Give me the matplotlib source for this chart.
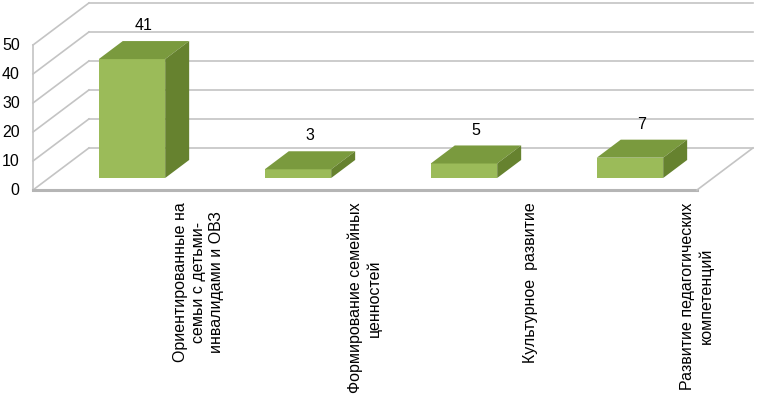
import matplotlib.pyplot as plt
from matplotlib.patches import Polygon

plt.rcParams['font.family'] = ['Liberation Sans', 'DejaVu Sans']

categories = [
    'Ориентированные на\nсемьи с детьми-\nинвалидами и ОВЗ',
    'Формирование семейных\nценностей',
    'Культурное  развитие',
    'Развитие педагогических\nкомпетенций',
]
values = [41, 3, 5, 7]
yticks = [0, 10, 20, 30, 40, 50]

FRONT = '#9bbb59'
TOP = '#7a9a3e'
SIDE = '#66822f'
GRID = '#c4c4c4'

# fake 3d: depth offset in data units
DX = 0.337   # category units
DY = 14.5    # value units
d0, d1 = 0.2857, 0.7143
width = 0.4

fig = plt.figure(figsize=(7.58, 3.99), dpi=100)
ax = fig.add_axes([0, 0, 1, 1])
ax.set_xlim(-33 / 166, 725 / 166)
ax.set_ylim((190 - 399) / 2.9, 190 / 2.9)
ax.axis('off')

n = len(values)
# walls and gridlines
for t in yticks:
    ax.plot([0, DX], [t, t + DY], color=GRID, lw=1.2, zorder=1)
    ax.plot([DX, n + DX], [t + DY, t + DY], color=GRID, lw=1.2, zorder=1)
    ax.text(-0.08, t, str(t), ha='right', va='center', fontsize=11.5)
ax.plot([0, 0], [0, yticks[-1]], color=GRID, lw=1.2, zorder=1)
ax.plot([0, n], [0, 0], color='#b5b5b5', lw=2.2, zorder=1)
ax.plot([n, n + DX], [0, DY], color=GRID, lw=1.2, zorder=1)

# bars
xs = [i + 0.5 + d0 * DX for i in range(n)]
b0 = d0 * DY
ax.bar(xs, values, width=width, bottom=b0, color=FRONT, zorder=3)
dd = d1 - d0
for x, v in zip(xs, values):
    xl, xr = x - width / 2, x + width / 2
    top = Polygon([(xl, v + b0), (xr, v + b0),
                   (xr + dd * DX, v + b0 + dd * DY), (xl + dd * DX, v + b0 + dd * DY)],
                  closed=True, facecolor=TOP, edgecolor='none', zorder=3)
    side = Polygon([(xr, b0), (xr, v + b0),
                    (xr + dd * DX, v + b0 + dd * DY), (xr + dd * DX, b0 + dd * DY)],
                   closed=True, facecolor=SIDE, edgecolor='none', zorder=3)
    ax.add_patch(top)
    ax.add_patch(side)
    ax.text(x + dd * DX / 2, v + b0 + dd * DY + 5.3, str(v),
            ha='center', va='center', fontsize=11.5, zorder=4)

# category labels
for i, lab in enumerate(categories):
    ax.text(i + 1, -4.3, lab, rotation=90, ha='center', va='top',
            multialignment='center', linespacing=1.25, fontsize=11.5)

fig.savefig('out.png', dpi=100)
